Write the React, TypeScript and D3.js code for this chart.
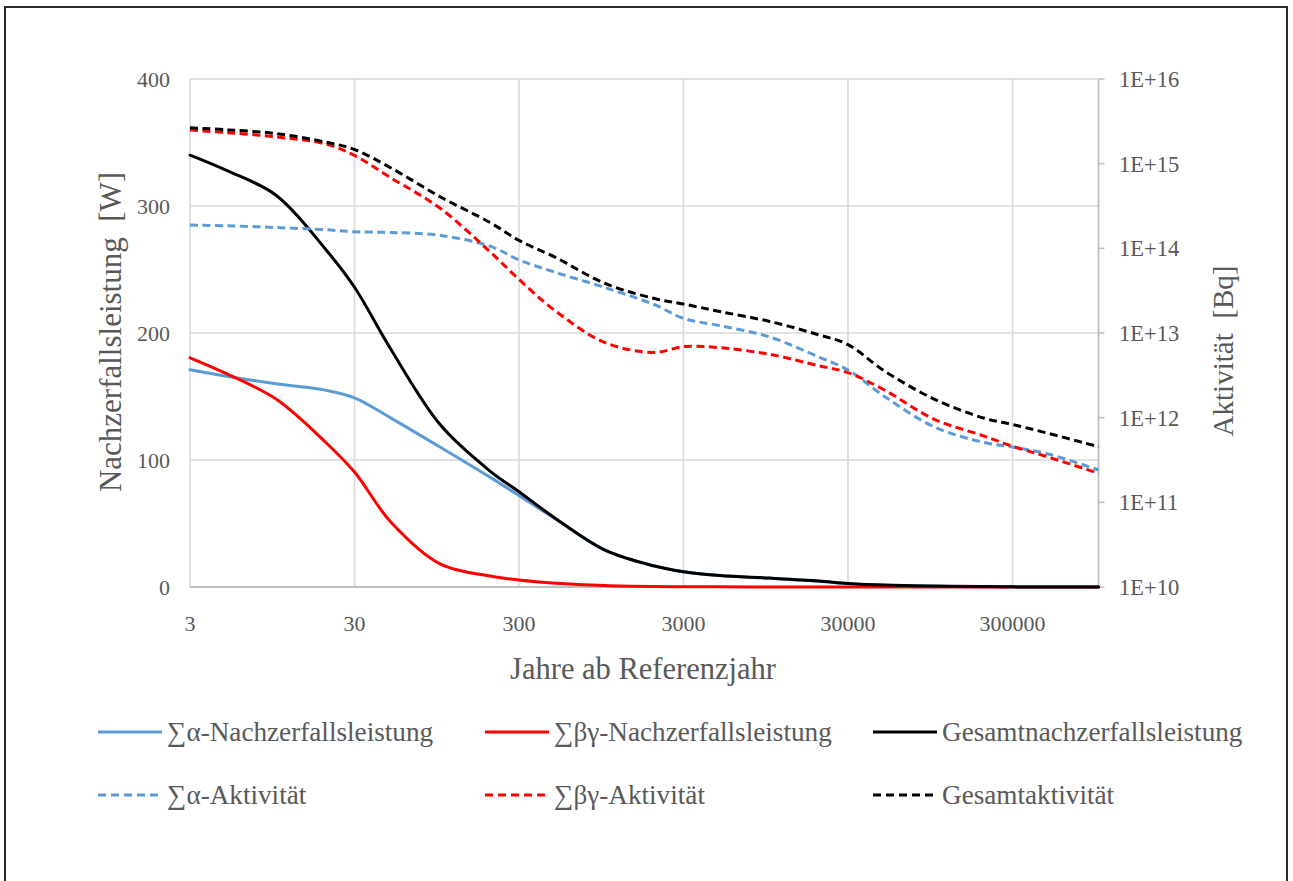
import React from "react";
import * as d3 from "d3";

// ---- data ----
const years = [3, 5, 10, 20, 30, 50, 100, 200, 300, 500, 1000, 2000, 3000, 5000, 10000, 20000, 30000, 50000, 100000, 200000, 300000, 500000, 1000000];

// decay heat [W]
const alphaPower = [171, 166, 160, 155, 149, 133, 110, 86.5, 72, 53.5, 29, 16.5, 12, 9, 6.8, 4.5, 2.7, 1.4, 0.6, 0.25, 0.12, 0.05, 0];
const betaGammaPower = [180.5, 168, 148, 114, 90.5, 51, 18, 8.7, 5.5, 3, 1.2, 0.4, 0.2, 0.1, 0.05, 0.02, 0.01, 0, 0, 0, 0, 0, 0];
const totalPower = [340, 328, 308.5, 266, 236, 187, 127.5, 91.3, 75, 54, 29, 16.5, 12, 9, 7, 4.7, 2.8, 1.5, 0.7, 0.3, 0.1, 0.05, 0];

// activity [Bq]
const alphaActivity = [1.88e14, 1.85e14, 1.76e14, 1.66e14, 1.57e14, 1.54e14, 1.42e14, 1.06e14, 7.3e13, 5.2e13, 3.44e13, 2.16e13, 1.49e13, 1.22e13, 9.0e12, 5.2e12, 3.66e12, 1.78e12, 7.8e11, 5.1e11, 4.5e11, 3.7e11, 2.41e11];
const betaGammaActivity = [2.49e15, 2.33e15, 2.07e15, 1.71e15, 1.25e15, 6.8e14, 2.95e14, 9.1e13, 4.3e13, 1.82e13, 7.7e12, 5.9e12, 6.9e12, 6.7e12, 5.6e12, 4.1e12, 3.4e12, 2.12e12, 9.6e11, 6.1e11, 4.6e11, 3.4e11, 2.2e11];
const totalActivity = [2.66e15, 2.51e15, 2.27e15, 1.8e15, 1.47e15, 8.9e14, 4.04e14, 2.02e14, 1.24e14, 7.8e13, 3.85e13, 2.55e13, 2.2e13, 1.79e13, 1.37e13, 9.5e12, 7.3e12, 3.56e12, 1.66e12, 9.9e11, 8.3e11, 6.5e11, 4.54e11];

const xTicks = [3, 30, 300, 3000, 30000, 300000];
const leftTicks = [0, 100, 200, 300, 400];
const rightTicks = [1e10, 1e11, 1e12, 1e13, 1e14, 1e15, 1e16];
const rightTickLabels = ["1E+10", "1E+11", "1E+12", "1E+13", "1E+14", "1E+15", "1E+16"];

const seriesNames = [
  "∑α-Nachzerfallsleistung",
  "∑βγ-Nachzerfallsleistung",
  "Gesamtnachzerfallsleistung",
  "∑α-Aktivität",
  "∑βγ-Aktivität",
  "Gesamtaktivität",
];

const xTitle = "Jahre ab Referenzjahr";
const leftTitle = "Nachzerfallsleistung  [W]";
const rightTitle = "Aktivität  [Bq]";

// ---- layout ----
const W = 1293;
const H = 881;
const plot = { left: 190, right: 1098.5, top: 79, bottom: 587 };
const FONT = "'Liberation Serif', 'Times New Roman', serif";
const TXT = "#595959";

export default function App() {
  const x = d3.scaleLog().domain([3, 1000000]).range([plot.left, plot.right]);
  const yL = d3.scaleLinear().domain([0, 400]).range([plot.bottom, plot.top]);
  const yR = d3.scaleLog().domain([1e10, 1e16]).range([plot.bottom, plot.top]);

  const series = [
    { name: seriesNames[0], vals: alphaPower, axis: "L", color: "#5b9bd5", dash: false },
    { name: seriesNames[1], vals: betaGammaPower, axis: "L", color: "#ff0000", dash: false },
    { name: seriesNames[2], vals: totalPower, axis: "L", color: "#000000", dash: false },
    { name: seriesNames[3], vals: alphaActivity, axis: "R", color: "#5b9bd5", dash: true },
    { name: seriesNames[4], vals: betaGammaActivity, axis: "R", color: "#ff0000", dash: true },
    { name: seriesNames[5], vals: totalActivity, axis: "R", color: "#000000", dash: true },
  ];

  const paths = series.map((s) => {
    const ys = s.axis === "L" ? yL : yR;
    const line = d3
      .line<number>()
      .x((_, i) => x(years[i]))
      .y((v) => Math.min(plot.bottom, ys(v)))
      .curve(d3.curveCatmullRom.alpha(0.5));
    return line(s.vals) || "";
  });

  const dashArr = "8,4.5";
  const legendCols = [98, 485, 873];
  const legendRows = [732, 795];

  return (
    <svg
      width={W}
      height={H}
      style={{ position: "absolute", left: 0, top: 0, background: "#fff" }}
      fontFamily={FONT}
    >
      <rect x={0} y={0} width={W} height={H} fill="#fff" />
      <rect x={5} y={7} width={1282} height={900} fill="none" stroke="#2a2a2a" strokeWidth={2} />

      {/* horizontal gridlines */}
      {leftTicks.map((t) => (
        <line key={"h" + t} x1={plot.left} x2={plot.right} y1={yL(t)} y2={yL(t)} stroke="#d9d9d9" strokeWidth={1.6} />
      ))}
      {/* vertical gridlines */}
      {xTicks.map((t) => (
        <line key={"v" + t} x1={x(t)} x2={x(t)} y1={plot.top} y2={plot.bottom} stroke="#d9d9d9" strokeWidth={1.6} />
      ))}
      {/* bottom axis */}
      <line x1={plot.left} x2={plot.right} y1={plot.bottom} y2={plot.bottom} stroke="#bfbfbf" strokeWidth={1.8} />
      {/* right axis */}
      <line x1={plot.right} x2={plot.right} y1={plot.top} y2={plot.bottom} stroke="#bfbfbf" strokeWidth={1.8} />
      {rightTicks.map((t) => (
        <line key={"rt" + t} x1={plot.right} x2={plot.right + 6} y1={yR(t)} y2={yR(t)} stroke="#bfbfbf" strokeWidth={1.5} />
      ))}

      {/* series */}
      {series.map((s, i) => (
        <path
          key={s.name}
          d={paths[i]}
          fill="none"
          stroke={s.color}
          strokeWidth={3}
          strokeDasharray={s.dash ? dashArr : undefined}
          strokeLinejoin="round"
          strokeLinecap={s.dash ? "butt" : "round"}
        />
      ))}

      {/* left tick labels */}
      {leftTicks.map((t) => (
        <text key={"lt" + t} x={170} y={yL(t) + 8} textAnchor="end" fontSize={22} fill={TXT}>
          {t}
        </text>
      ))}
      {/* right tick labels */}
      {rightTicks.map((t, i) => (
        <text key={"rl" + t} x={1119} y={yR(t) + 8} textAnchor="start" fontSize={22.5} fill={TXT}>
          {rightTickLabels[i]}
        </text>
      ))}
      {/* x tick labels */}
      {xTicks.map((t) => (
        <text key={"xl" + t} x={x(t)} y={631} textAnchor="middle" fontSize={22} fill={TXT}>
          {String(t)}
        </text>
      ))}

      {/* axis titles */}
      <text x={643} y={679} textAnchor="middle" fontSize={30.5} fill={TXT}>
        {xTitle}
      </text>
      <text
        transform={`translate(121,332) rotate(-90)`}
        textAnchor="middle"
        fontSize={31}
        fill={TXT}
        style={{ whiteSpace: "pre" }}
      >
        {leftTitle}
      </text>
      <text
        transform={`translate(1233,351) rotate(-90)`}
        textAnchor="middle"
        fontSize={29}
        fill={TXT}
        style={{ whiteSpace: "pre" }}
      >
        {rightTitle}
      </text>

      {/* legend */}
      {series.map((s, i) => {
        const cx = legendCols[i % 3];
        const cy = legendRows[Math.floor(i / 3)];
        return (
          <g key={"lg" + i}>
            <line
              x1={cx}
              x2={cx + 64}
              y1={cy}
              y2={cy}
              stroke={s.color}
              strokeWidth={3}
              strokeDasharray={s.dash ? "8,5" : undefined}
            />
            <text x={cx + 69} y={cy + 9} fontSize={27.2} fill={TXT}>
              {s.name}
            </text>
          </g>
        );
      })}
    </svg>
  );
}
